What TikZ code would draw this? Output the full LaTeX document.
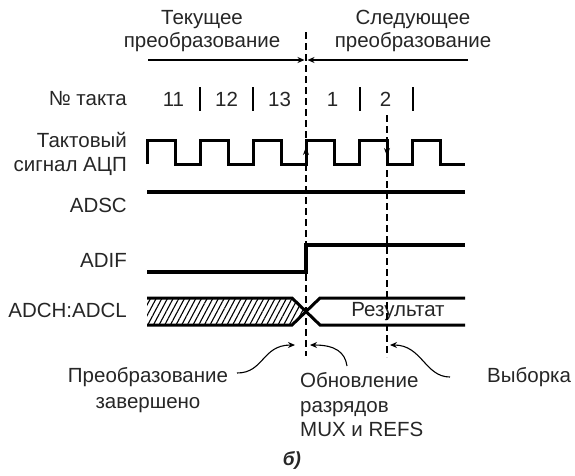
\documentclass[tikz,border=0pt]{standalone}
\usepackage{fontspec}
\setmainfont{Liberation Sans}
\usetikzlibrary{arrows.meta,patterns.meta}
\tikzset{
  txt/.style={font=\fontsize{20.5}{22.5}\selectfont, text=black!85, inner sep=0pt},
  sig/.style={line width=3.5pt},
  clk/.style={line width=3pt, line join=miter},
  markline/.style={line width=1.1pt, dash pattern=on 7pt off 4pt},
  tip/.style={-{Stealth[length=7pt,width=6pt]}, line width=1.3pt},
}
\begin{document}
\begin{tikzpicture}[x=1pt,y=-1pt]
  \useasboundingbox (0,0) rectangle (575,475);
  % labels on the left
  \node[txt, anchor=east] (lnum) at (127,99) {№ такта};
  \node[txt, anchor=east, align=right] (lclk) at (127,154) {Тактовый\\[1pt]сигнал АЦП};
  \node[txt, anchor=east] (ladsc) at (127,205) {ADSC};
  \node[txt, anchor=east] (ladif) at (127,260) {ADIF};
  \node[txt, anchor=east] (ldata) at (127,310) {ADCH:ADCL};
  % headings
  \node[txt, align=center] (cur) at (202,31) {Текущее\\преобразование};
  \node[txt, align=center] (nxt) at (413,31) {Следующее\\преобразование};
  \coordinate (curA) at (148,60);
  \coordinate (nxtA) at (468,60);
  \coordinate (bound) at (306,60);
  \draw[tip, shorten >=1.5pt] (curA) -- (bound);
  \draw[tip, shorten >=1.5pt] (nxtA) -- (bound);
  % cycle numbers
  \foreach \n [count=\i from 0] in {11,12,13,1,2}
    \node[txt] (n\n) at ({173.5+53*\i},99) {\n};
  \foreach \x in {200,253,360,413}
    \draw[line width=1.5pt] (\x,87) -- (\x,111);
  % waveforms
  \draw[clk] (147,164) foreach \t in {0,...,5} { -- ++(0,-24) -- ++(28,0) -- ++(0,24) -- ++(25,0) };
  \draw[sig] (147,192) -- (465,192);
  \draw[sig] (147,272) -- (306,272) -- (306,245) -- (465,245);
  \fill[pattern={Lines[angle=62,distance=5pt,line width=1.1pt]}] (147,298) -- (292,298) -- (306,311.5) -- (292,325) -- (147,325) -- cycle;
  \draw[line width=3pt] (147,298) -- (292,298) -- (320,325) -- (465,325);
  \draw[line width=3pt] (147,325) -- (292,325) -- (320,298) -- (465,298);
  \node[txt] (res) at (398,312) {Результат};
  % boundary lines
  \coordinate (d1top) at (306,32);
  \coordinate (d1bot) at (306,356);
  \coordinate (d2top) at (387,115);
  \coordinate (d2bot) at (387,357);
  \draw[markline] (d1top) -- (d1bot);
  \draw[markline] (d2top) -- (d2bot);
  \draw[-{Stealth[length=8pt,width=6pt]}, line width=1pt] (306,160) -- (306,147);
  \draw[-{Stealth[length=8pt,width=6pt]}, line width=1pt] (387,143) -- (387,156);
  % notes below
  \node[txt, align=center] (done) at (148,390) {Преобразование\\[3pt]завершено};
  \node[txt, align=left, anchor=west] (upd) at (300,405) {Обновление\\[2pt]разрядов\\[2pt]MUX и REFS};
  \node[txt, anchor=west] (smp) at (487,377) {Выборка};
  \coordinate (doneA) at (237,373);
  \coordinate (doneT) at (295,345);
  \coordinate (updA) at (347,366);
  \coordinate (updT) at (310,345);
  \coordinate (smpA) at (450,377);
  \coordinate (smpT) at (390,345);
  \draw[tip, line width=1.1pt] (doneA) .. controls (264,373) and (262,345) .. (doneT);
  \draw[tip, line width=1.1pt] (updA) .. controls (345,352) and (335,345) .. (updT);
  \draw[tip, line width=1.1pt] (smpA) .. controls (425,377) and (422,345) .. (smpT);
  \node[txt, font=\fontsize{19}{22}\selectfont\bfseries\itshape] (cap) at (292,460) {б)};
\end{tikzpicture}
\end{document}
